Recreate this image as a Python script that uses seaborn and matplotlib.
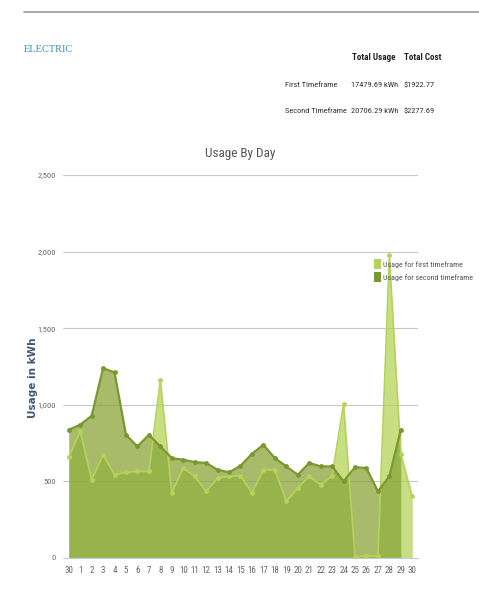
import matplotlib.pyplot as plt
import pandas as pd
import seaborn as sns
from matplotlib.lines import Line2D
from matplotlib.patches import Patch

# Day labels along the x axis (31 days, previous month's 30th first)
days = ["30"] + [str(d) for d in range(1, 31)]

# kWh per day
first_usage = [657, 826, 511, 674, 543, 559, 565, 565, 1163, 424,
               587, 533, 435, 522, 533, 537, 424, 576, 576, 370,
               457, 533, 478, 537, 1007, 5, 15, 10, 1975, 680, 402]
second_usage = [837, 870, 928, 1239, 1211, 804, 728, 804, 728, 652,
                641, 626, 620, 576, 559, 602, 680, 739, 652, 598,
                543, 620, 598, 598, 500, 593, 587, 435, 533, 837]

summary_rows = ["First Timeframe", "Second Timeframe"]
summary_usage = ["17479.69 kWh", "20706.29 kWh"]
summary_cost = ["$1922.77", "$2277.69"]

y_ticks = [0, 500, 1000, 1500, 2000, 2500]

LIGHT = "#b5d35a"
DARK = "#8aa53a"
DARK_LINE = "#7a9830"
NARROW = ["Roboto Condensed", "DejaVu Sans"]

sns.set_theme(style="white")
plt.rcParams["font.family"] = NARROW

W, H = 479, 598
fig = plt.figure(figsize=(W / 100, H / 100), dpi=100)
ax = fig.add_axes([63 / W, 1 - 558 / H, (418 - 63) / W, (558 - 175) / H])

df1 = pd.DataFrame({"x": range(len(first_usage)), "kwh": first_usage})
df2 = pd.DataFrame({"x": range(len(second_usage)), "kwh": second_usage})

for y in y_ticks[1:]:
    ax.axhline(y, color="#c8c8c8", lw=0.8, zorder=0)

ax.fill_between(df1["x"], df1["kwh"], color=LIGHT, alpha=0.75, lw=0, zorder=1)
ax.fill_between(df2["x"], df2["kwh"], color=DARK, alpha=0.75, lw=0, zorder=2)
sns.lineplot(data=df1, x="x", y="kwh", ax=ax, color=LIGHT, lw=1.2,
             marker="o", markersize=3.5, markeredgewidth=0, zorder=3)
sns.lineplot(data=df2, x="x", y="kwh", ax=ax, color=DARK_LINE, lw=1.6,
             marker="o", markersize=3.5, markeredgewidth=0, zorder=4)

ax.set_xlim(-0.5, len(days) - 0.5)
ax.set_ylim(0, 2500)
ax.set_yticks(y_ticks)
ax.set_yticklabels([f"{v:,}" for v in y_ticks], color="#666666", fontsize=6)
ax.set_xticks(range(len(days)))
ax.set_xticklabels(days, color="#666666", fontsize=6.5)
ax.set_xticks([i - 0.5 for i in range(len(days) + 1)], minor=True)
ax.tick_params(axis="x", which="major", length=0, pad=6)
ax.tick_params(axis="x", which="minor", length=4, color="#c0d0e0", width=0.8)
ax.tick_params(axis="y", length=0, pad=5)
ax.set_xlabel("")
ax.set_ylabel("")
for name, spine in ax.spines.items():
    spine.set_visible(name == "bottom")
ax.spines["bottom"].set_color("#c0d0e0")
ax.spines["bottom"].set_linewidth(0.8)

ax.set_title("Usage By Day", color="#555555", fontsize=9.5, pad=13)

fig.text(33 / W, 1 - 378 / H, "Usage in kWh", rotation=90, ha="center", va="center",
         fontsize=7.5, fontweight="bold", color="#3d5775", family=["DejaVu Sans"])

handles = [Patch(facecolor=LIGHT, edgecolor="none"), Patch(facecolor=DARK_LINE, edgecolor="none")]
ax.legend(handles, ["Usage for first timeframe", "Usage for second timeframe"],
          loc="upper left", bbox_to_anchor=(374 / W, 1 - 259 / H), bbox_transform=fig.transFigure,
          frameon=False, fontsize=5.8, handlelength=0.9, handleheight=1.6,
          handletextpad=0.2, borderpad=0, borderaxespad=0, labelspacing=0.3,
          labelcolor="#555555")

# header block
fig.add_artist(Line2D([24 / W, 1], [1 - 12 / H, 1 - 12 / H], color="#9a9a9a", lw=1.2))
fig.text(24 / W, 1 - 50 / H, "ELECTRIC", color="#3b8dbd", fontsize=7.5,
         va="center", ha="left", family=["Liberation Serif", "DejaVu Serif"])

fig.text(352 / W, 1 - 58 / H, "Total Usage", fontsize=6.5, fontweight="bold", color="#222222", va="center")
fig.text(404 / W, 1 - 58 / H, "Total Cost", fontsize=6.5, fontweight="bold", color="#222222", va="center")
for i, (row, use, cost) in enumerate(zip(summary_rows, summary_usage, summary_cost)):
    y = 1 - (85 + 26 * i) / H
    fig.text(285 / W, y, row, fontsize=6, color="#333333", va="center")
    fig.text(351 / W, y, use, fontsize=6, color="#333333", va="center")
    fig.text(404 / W, y, cost, fontsize=6, color="#333333", va="center")

fig.savefig("out.png", dpi=100)
